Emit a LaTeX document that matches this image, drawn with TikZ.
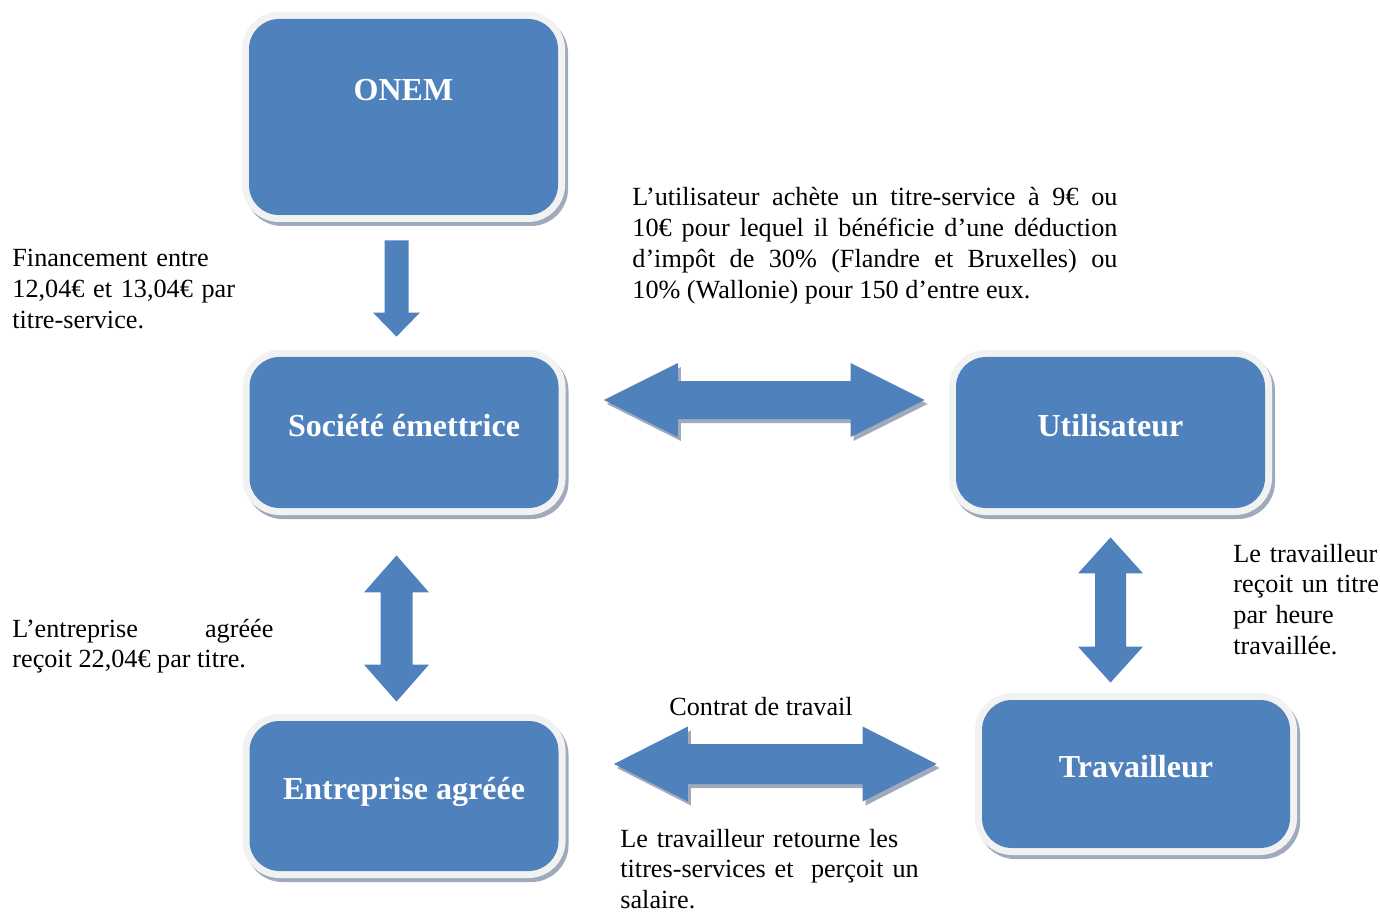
\documentclass[tikz,border=0pt]{standalone}
\usepackage{fontspec}
\setmainfont{Liberation Serif}
\usetikzlibrary{calc,positioning}
\definecolor{boxblue}{HTML}{4F81BD}
\definecolor{glowgray}{HTML}{F2F2F2}
\definecolor{shadgray}{HTML}{A0AABD}

\begin{document}
\begin{tikzpicture}[x=0.5pt,y=-0.5pt,
  box/.style={rounded corners=15pt,fill=boxblue,text=white,inner sep=0pt,
    font=\bfseries\fontsize{16}{19}\selectfont,minimum width=154.5pt,
    text height=11pt,text depth=7.5pt,
    preaction={draw=shadgray,fill=shadgray,line width=7pt,transform canvas={shift={(1.5pt,-2pt)}}},
    preaction={draw=glowgray,line width=7pt}},
  txt/.style={font=\fontsize{13.1}{15.4}\selectfont,inner sep=0pt,anchor=base west},
  arr/.style={fill=boxblue},
  arrsh/.style={fill=boxblue,preaction={fill=shadgray,transform canvas={shift={(1.5pt,-2pt)}}}}]
  \useasboundingbox (0,0) rectangle (1380,914);

  % boxes
  \node[box,minimum height=98pt,text depth=27.5pt] (onem) at (403.5,117) {ONEM};
  \node[box,minimum height=75.5pt] (soc) at (404,432.5) {Société émettrice};
  \node[box,minimum height=75.5pt] (util) at (1110.5,432.5) {Utilisateur};
  \node[box,minimum height=75pt] (entr) at (404,796) {Entreprise agréée};
  \node[box,minimum height=74pt,minimum width=154pt] (trav) at (1136,774) {Travailleur};

  % arrow ends
  \coordinate (d1) at ($(onem.south)+(-7,25)$);
  \coordinate (d2) at ($(soc.north)+(-7.5,-20)$);
  \coordinate (h1) at ($(soc.east)+(45,-32.5)$);
  \coordinate (h2) at ($(util.west)+(-31,-32.5)$);
  \coordinate (v1) at ($(soc.south)+(-7.5,47)$);
  \coordinate (v2) at ($(entr.north)+(-7.5,-19)$);
  \coordinate (w1) at ($(util.south)+(0,29)$);
  \coordinate (w2) at ($(trav.north)+(-25.5,-17)$);
  \coordinate (k1) at ($(entr.east)+(55,-32)$);
  \coordinate (k2) at ($(trav.west)+(-45,-10)$);

  % block arrows
  \fill[arr] let \p1=(d1), \p2=(d2) in (\x1-6pt,\y1) -- (\x1+6pt,\y1) -- (\x1+6pt,\y2+12pt) -- (\x1+11.75pt,\y2+12pt)
    -- (\p2) -- (\x1-11.75pt,\y2+12pt) -- (\x1-6pt,\y2+12pt) -- cycle;
  \fill[arrsh] let \p1=(h1), \p2=(h2) in (\p1) -- (\x1+37pt,\y1+18.5pt) -- (\x1+37pt,\y1+9.5pt) -- (\x2-37pt,\y1+9.5pt)
    -- (\x2-37pt,\y1+18.5pt) -- (\p2) -- (\x2-37pt,\y1-18.5pt) -- (\x2-37pt,\y1-9.5pt) -- (\x1+37pt,\y1-9.5pt) -- (\x1+37pt,\y1-18.5pt) -- cycle;
  \fill[arrsh] let \p1=(k1), \p2=(k2) in (\p1) -- (\x1+37pt,\y1+18.75pt) -- (\x1+37pt,\y1+10pt) -- (\x2-37pt,\y1+10pt)
    -- (\x2-37pt,\y1+18.75pt) -- (\p2) -- (\x2-37pt,\y1-18.75pt) -- (\x2-37pt,\y1-10pt) -- (\x1+37pt,\y1-10pt) -- (\x1+37pt,\y1-18.75pt) -- cycle;
  \fill[arr] let \p1=(v1), \p2=(v2) in (\p1) -- (\x1+16.25pt,\y1-18.5pt) -- (\x1+8pt,\y1-18.5pt) -- (\x1+8pt,\y2+18.5pt)
    -- (\x1+16.25pt,\y2+18.5pt) -- (\p2) -- (\x1-16.25pt,\y2+18.5pt) -- (\x1-8pt,\y2+18.5pt) -- (\x1-8pt,\y1-18.5pt) -- (\x1-16.25pt,\y1-18.5pt) -- cycle;
  \fill[arr] let \p1=(w1), \p2=(w2) in (\p1) -- (\x1+16.25pt,\y1-18pt) -- (\x1+7.75pt,\y1-18pt) -- (\x1+7.75pt,\y2+18pt)
    -- (\x1+16.25pt,\y2+18pt) -- (\p2) -- (\x1-16.25pt,\y2+18pt) -- (\x1-7.75pt,\y2+18pt) -- (\x1-7.75pt,\y1-18pt) -- (\x1-16.25pt,\y1-18pt) -- cycle;

  % texts
  \node[txt,text width=125pt,align=left] (t1) at (12,267) {Financement entre\\12,04€ et 13,04€ par\\titre-service.};
  \node[txt,text width=242.5pt,align=justify] (t2) at (632,206) {L’utilisateur achète un titre-service à 9€ ou\linebreak
    10€ pour lequel il bénéficie d’une déduction\linebreak d’impôt de 30\% (Flandre et Bruxelles) ou\linebreak
    10\% (Wallonie) pour 150 d’entre eux.};
  \node[txt,text width=130.5pt,align=justify] (t3) at (12,637) {L’entreprise agréée\linebreak reçoit 22,04€ par titre.};
  \node[txt,text width=80pt,align=left] (t4) at (1233,562) {Le travailleur\\reçoit un titre\\par heure\\travaillée.};
  \node[txt,anchor=base] (t5) at (761,715) {Contrat de travail};
  \node[txt,text width=170pt,align=left] (t6) at (620,847) {Le travailleur retourne les\\titres-services et \ perçoit un\\salaire.};
\end{tikzpicture}
\end{document}
